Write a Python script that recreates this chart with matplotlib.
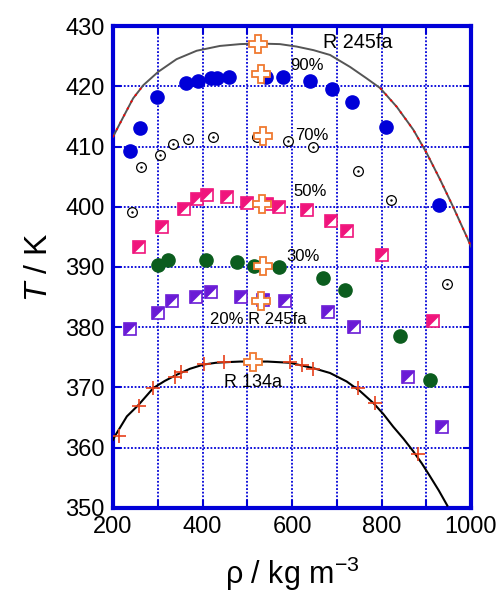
#!/usr/bin/env python3
# -*- coding: UTF-8 -*-
"""T-rho data for R 245fa / R 134a mixtures at several compositions"""
import numpy as np
import matplotlib.pyplot as plt
from matplotlib.ticker import MultipleLocator

## -- begin data --
# 90 % R 245fa, filled blue circles
rho90 = [237, 260, 299, 363, 391, 419, 432, 460, 543, 581, 640, 689, 735, 810, 928]
T90 = [409.3, 413.0, 418.2, 420.6, 420.9, 421.3, 421.3, 421.6, 421.6, 421.5,
       420.8, 419.6, 417.4, 413.2, 400.3]
# 70 %, open circles
rho70 = [242, 263, 304, 335, 368, 424, 521, 592, 648, 747, 821, 946]
T70 = [399.2, 406.6, 408.6, 410.5, 411.3, 411.6, 411.5, 410.9, 409.9, 406.0,
       401.1, 387.2]
# 50 %, pink half squares
rho50 = [258, 309, 359, 388, 409, 454, 500, 544, 571, 634, 687, 722, 800, 914]
T50 = [393.3, 396.6, 399.6, 401.3, 402.0, 401.6, 400.7, 400.5, 399.9, 399.5,
       397.7, 396.0, 392.0, 381.0]
# 30 %, green circles
rho30 = [301, 323, 408, 476, 515, 570, 670, 718, 841, 908]
T30 = [390.4, 391.2, 391.2, 390.9, 390.1, 390.0, 388.1, 386.1, 378.6, 371.3]
# 20 %, purple half squares
rho20 = [238, 301, 331, 386, 419, 486, 536, 584, 680, 739, 859, 935]
T20 = [379.7, 382.4, 384.3, 385.0, 385.9, 385.0, 384.6, 384.3, 382.5, 380.1,
       371.7, 363.5]
# critical points (open crosses)
rho_c = [525, 531, 536, 532, 536, 531, 512]
T_c = [427.0, 422.0, 411.8, 400.4, 390.2, 384.4, 374.2]
# pure R 134a saturation data
rho134 = [214, 257, 290, 339, 352, 404, 448, 596, 622, 648, 747, 786, 881]
T134 = [362.0, 367.0, 369.9, 371.7, 372.5, 373.9, 374.2, 374.2, 373.7, 373.1,
        369.9, 367.5, 359.0]
# R 134a saturation curve
rho134_line = [200, 204, 231, 257, 290, 316, 342, 372, 402, 430, 454, 484,
               514, 545, 595, 648, 685, 722, 752, 782, 804, 826, 849, 871,
               890, 908, 928, 947]
T134_line = [361.3, 361.9, 365.2, 367.1, 369.9, 371.1, 372.1, 373.1, 373.8,
             374.1, 374.2, 374.3, 374.3, 374.3, 374.1, 373.2, 372.4, 371.0,
             369.4, 367.4, 365.6, 363.5, 361.5, 359.4, 357.4, 355.3, 352.9,
             350.4]
# R 245fa saturation curve
rho245_line = [200, 202, 223, 245, 268, 301, 342, 387, 439, 484, 525, 573,
               610, 648, 685, 730, 767, 797, 834, 871, 901, 931, 960, 990,
               1000]
T245_line = [411.6, 411.9, 414.9, 418.0, 420.2, 422.4, 424.5, 425.9, 426.7,
             427.0, 427.1, 427.0, 426.6, 426.0, 425.2, 423.2, 421.3, 419.7,
             416.6, 412.8, 408.9, 404.5, 400.0, 395.1, 393.4]
## -- end data --

plt.rcParams["font.family"] = ["Liberation Sans", "DejaVu Sans"]
plt.rcParams["mathtext.fontset"] = "custom"
plt.rcParams["mathtext.rm"] = "Liberation Sans"
plt.rcParams["mathtext.it"] = "Liberation Sans:italic"

BLUE = "#0000d8"
# upper-left triangle for half filled squares
tri = [(-1, -1), (-1, 1), (1, 1), (-1, -1)]


def half_square(ax, x, y, c):
    ax.plot(x, y, "s", ms=8.5, mfc="white", mec=c, mew=1.2, ls="none", zorder=4)
    ax.plot(x, y, marker=tri, ms=8.5, mfc=c, mec=c, mew=0.5, ls="none", zorder=4)


def main():
    fig = plt.figure(figsize=(5.0, 5.92), dpi=100)
    ax = fig.add_axes([0.226, 0.142, 0.716, 0.814])

    # saturation curves
    r245 = np.array(rho245_line)
    t245 = np.array(T245_line)
    ax.plot(r245, t245, color="#555555", lw=1.4, zorder=3)
    left = r245 <= 270
    right = r245 >= 795
    ax.plot(r245[left], t245[left], color="red", lw=1.4, ls=(0, (1, 3)),
            zorder=3)
    ax.plot(r245[right], t245[right], color="red", lw=1.4, ls=(0, (1, 3)),
            zorder=3)
    ax.plot(rho134_line, T134_line, color="black", lw=1.5, zorder=3)
    ax.plot(rho134, T134, "+", color="#e8401a", ms=10, mew=1.2, zorder=4)

    # mixtures
    ax.plot(rho90, T90, "o", color=BLUE, ms=9.5, zorder=4)
    ax.plot(rho70, T70, "o", mfc="white", mec="black", ms=7, mew=0.9, zorder=4)
    ax.plot(rho70, T70, ".", color="black", ms=1.5, zorder=4)
    half_square(ax, rho50, T50, "#f0147c")
    ax.plot(rho30, T30, "o", color="#0b5d1e", ms=9.5, zorder=4)
    half_square(ax, rho20, T20, "#6a1ad6")
    ax.plot(rho_c, T_c, "P", mfc="white", mec="#f07a30", ms=13, mew=1.3,
            zorder=5)

    # labels
    fs = 12
    ax.text(669, 427.3, "R 245fa", fontsize=14.2, ha="left", va="center")
    ax.text(595, 423.5, "90%", fontsize=fs, ha="left", va="center")
    ax.text(606, 411.9, "70%", fontsize=fs, ha="left", va="center")
    ax.text(602, 402.6, "50%", fontsize=fs, ha="left", va="center")
    ax.text(587, 391.7, "30%", fontsize=fs, ha="left", va="center")
    ax.text(417, 381.2, "20% R 245fa", fontsize=12, ha="left", va="center")
    ax.text(448, 370.9, "R 134a", fontsize=13, ha="left", va="center")

    ax.set_xlim(200, 1000)
    ax.set_ylim(350, 430)
    ax.xaxis.set_major_locator(MultipleLocator(200))
    ax.xaxis.set_minor_locator(MultipleLocator(100))
    ax.yaxis.set_major_locator(MultipleLocator(10))
    ax.grid(True, which="both", color=BLUE, ls=(0, (1, 1)), lw=1.3)
    ax.set_axisbelow(True)
    for s in ax.spines.values():
        s.set_color(BLUE)
        s.set_linewidth(3)
    ax.tick_params(which="both", direction="in", color=BLUE, width=1.5,
                   length=6, top=True, right=True, labelsize=17, pad=6)
    ax.set_xlabel(r"ρ / kg m$^{-3}$", fontsize=22, labelpad=12)
    ax.set_ylabel(r"$T$ / K", fontsize=23, labelpad=8)
    fig.savefig("out.png", dpi=100)


if __name__ == "__main__":
    main()
